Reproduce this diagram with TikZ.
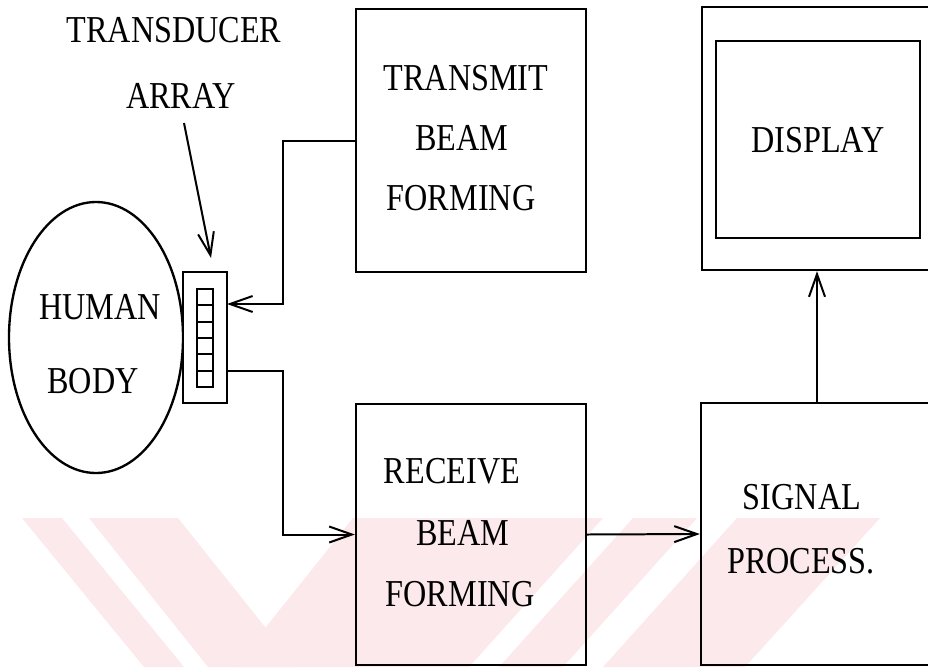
\documentclass[tikz,border=0pt]{standalone}
\usepackage{fontspec}
\setmainfont{Liberation Serif}
\usetikzlibrary{arrows.meta,shapes.geometric}
\definecolor{wm}{RGB}{252,233,236}
\tikzset{
  boxs/.style={draw, line width=1.9pt, rectangle, inner sep=0pt},
  lbl/.style={inner sep=0pt, font=\fontsize{27.5}{31}\selectfont},
  arr/.style={line width=1.7pt, -{Straight Barb[length=0.68cm,width=0.48cm,line width=1.7pt]}},
}
\newcommand{\tl}[1]{\scalebox{1}[1.18]{#1}}
\begin{document}
\begin{tikzpicture}[x=0.03cm,y=-0.03cm]
\useasboundingbox (0,0) rectangle (928,667);
% watermark
\fill[wm] (22,518) -- (62,518) -- (184,667) -- (144,667) -- cycle;
\fill[wm] (89,518) -- (178,518) -- (297,667) -- (208,667) -- cycle;
\fill[wm] (353,518) -- (603,518) -- (469,667) -- (234,667) -- cycle;
\fill[wm] (633,518) -- (697,518) -- (563,667) -- (499,667) -- cycle;
\fill[wm] (737,518) -- (880,518) -- (745,667) -- (603,667) -- cycle;
% human body
\node[draw, ellipse, line width=2pt, minimum width=5.22cm, minimum height=8.13cm, inner sep=0pt] (hb) at (96,337.5) {};
\node[lbl] (hb1) at (100,307) {\tl{HUMAN}};
\node[lbl] (hb2) at (93,381) {\tl{BODY}};
% transducer array
\node[boxs, fill=white, minimum width=1.32cm, minimum height=3.93cm] (td) at (205,337.5) {};
\foreach \i in {0,...,5} {
  \node[draw, line width=1.5pt, minimum width=0.48cm, minimum height=0.49cm, inner sep=0pt] (cell\i) at (205,{297.2+16.33*\i}) {};
}
\node[lbl] (tdl1) at (174,30) {\tl{TRANSDUCER}};
\node[lbl] (tdl2) at (181,96) {\tl{ARRAY}};
\coordinate (tdtip) at (211,258);
\coordinate (tdtail) at (184,123);
\draw[arr] (tdtail) -- (tdtip);
% transmit
\node[boxs, minimum width=6.9cm, minimum height=7.89cm] (tx) at (471,140.5) {};
\node[lbl] (tx1) at (466,78) {\tl{TRANSMIT}};
\node[lbl] (tx2) at (462,138) {\tl{BEAM}};
\node[lbl] (tx3) at (461,198) {\tl{FORMING}};
% receive
\node[boxs, minimum width=6.9cm, minimum height=7.83cm] (rx) at (471,534.5) {};
\node[lbl] (rx1) at (452,471) {\tl{RECEIVE}};
\node[lbl] (rx2) at (463,533) {\tl{BEAM}};
\node[lbl] (rx3) at (460,594) {\tl{FORMING}};
% signal
\node[boxs, minimum width=6.99cm, minimum height=7.86cm] (sx) at (817.5,534) {};
\node[lbl] (sx1) at (802,497) {\tl{SIGNAL}};
\node[lbl] (sx2) at (801,561) {\tl{PROCESS.}};
% display
\node[boxs, minimum width=6.9cm, minimum height=7.89cm] (dout) at (817,138.5) {};
\node[boxs, minimum width=6.12cm, minimum height=5.91cm] (din) at (818,139.5) {};
\node[lbl] (dl) at (818,140) {\tl{DISPLAY}};
% connectors
\coordinate (tdin) at (227,304);
\coordinate (tdout) at (227,371);
\coordinate (jx) at (283,0);
\draw[arr] (tx.west) -- (tx.west -| jx) |- (tdin);
\draw[arr] (tdout) -- (tdout -| jx) |- (rx.west);
\draw[arr] (rx.east) -- (sx.west);
\coordinate (ax) at (817,0);
\draw[arr] (sx.north -| ax) -- (dout.south -| ax);
\end{tikzpicture}
\end{document}
